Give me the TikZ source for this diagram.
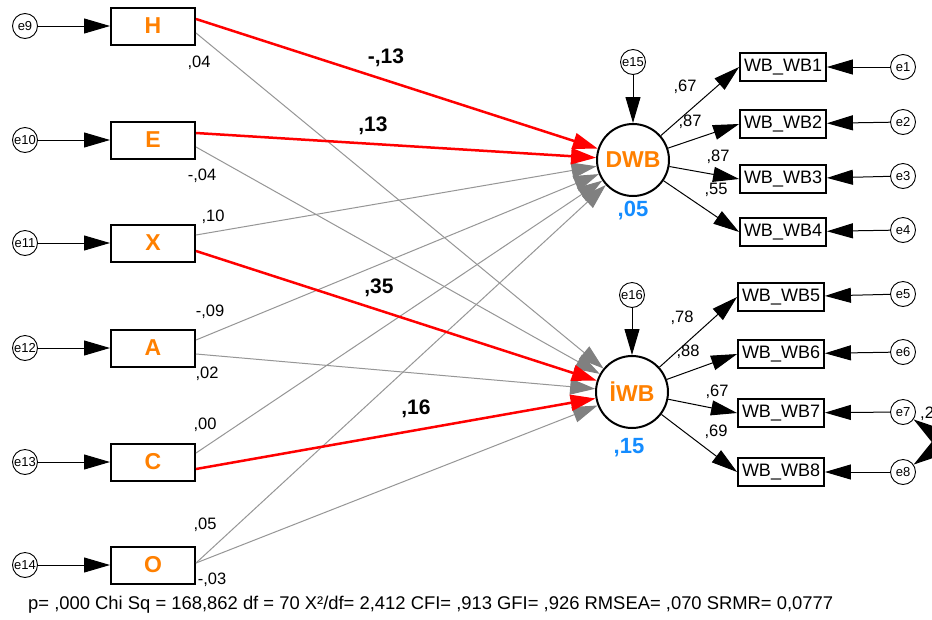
\documentclass[tikz,border=0pt]{standalone}
\usepackage{fontspec}
\setmainfont{Liberation Sans}
\usetikzlibrary{arrows.meta}
\definecolor{amosorange}{RGB}{255,128,0}
\definecolor{amosblue}{RGB}{20,140,255}
\definecolor{pathgray}{RGB}{150,150,150}
\definecolor{headgray}{RGB}{128,128,128}
\definecolor{pathred}{RGB}{255,0,0}

\begin{document}
\begin{tikzpicture}[x=1pt,y=-1pt,
  obs/.style={draw, line width=2pt, minimum width=84pt, minimum height=37pt, inner sep=0pt,
    text=amosorange, font=\fontsize{23}{23}\selectfont\bfseries},
  ind/.style={draw, line width=1.8pt, minimum width=86pt, minimum height=28pt, inner sep=0pt,
    font=\fontsize{18}{18}\selectfont},
  lat/.style={circle, draw, line width=2pt, minimum size=72pt, inner sep=0pt,
    text=amosorange, font=\fontsize{23}{23}\selectfont\bfseries},
  err/.style={circle, draw, line width=0.9pt, minimum size=25pt, inner sep=0pt,
    font=\fontsize{13}{13}\selectfont},
  blk/.style={line width=1pt, -{Triangle[length=26pt,width=15pt]}},
  grp/.style={line width=1pt, draw=pathgray, -{Triangle[length=25pt,width=16pt,color=headgray]}},
  redp/.style={line width=2.5pt, draw=pathred, -{Triangle[length=25pt,width=16pt,color=pathred]}},
  coef/.style={font=\fontsize{16.5}{16.5}\selectfont, inner sep=0pt},
  bcoef/.style={font=\fontsize{21}{21}\selectfont\bfseries, inner sep=0pt},
  rsq/.style={font=\fontsize{22}{22}\selectfont\bfseries, text=amosblue, inner sep=0pt}
]
\useasboundingbox[fill=white] (0,0) rectangle (932,619);

% exogenous observed variables and their errors
\node[obs] (H) at (153,26) {H};
\node[obs] (E) at (153,140) {E};
\node[obs] (X) at (153,243) {X};
\node[obs] (A) at (153,348) {A};
\node[obs] (C) at (153,462) {C};
\node[obs] (O) at (153,565) {O};
\node[err] (e9)  at (25,26)  {e9};
\node[err] (e10) at (25,140) {e10};
\node[err] (e11) at (25,243) {e11};
\node[err] (e12) at (25,348) {e12};
\node[err] (e13) at (25,462) {e13};
\node[err] (e14) at (25,565) {e14};
\foreach \e/\v in {e9/H,e10/E,e11/X,e12/A,e13/C,e14/O}
  \draw[blk] (\e) -- (\v);

% latent variables
\node[lat] (DWB) at (633,160) {DWB};
\node[lat] (IWB) at (632,392) {İWB};
\node[err] (e15) at (633,62)  {e15};
\node[err] (e16) at (632,295) {e16};
\draw[blk] (e15) -- (DWB);
\draw[blk] (e16) -- (IWB);

% indicators
\node[ind] (w1) at (783,67)  {WB\_WB1};
\node[ind] (w2) at (783,124) {WB\_WB2};
\node[ind] (w3) at (783,179) {WB\_WB3};
\node[ind] (w4) at (783,232) {WB\_WB4};
\node[ind] (w5) at (781,297) {WB\_WB5};
\node[ind] (w6) at (781,354) {WB\_WB6};
\node[ind] (w7) at (781,413) {WB\_WB7};
\node[ind] (w8) at (781,472) {WB\_WB8};
\node[err] (e1) at (903,67)  {e1};
\node[err] (e2) at (903,122) {e2};
\node[err] (e3) at (903,176) {e3};
\node[err] (e4) at (903,230) {e4};
\node[err] (e5) at (903,294) {e5};
\node[err] (e6) at (903,352) {e6};
\node[err] (e7) at (903,412) {e7};
\node[err] (e8) at (903,472) {e8};
\foreach \e/\w in {e1/w1,e2/w2,e3/w3,e4/w4,e5/w5,e6/w6,e7/w7,e8/w8}
  \draw[blk] (\e) -- (\w);
\foreach \w in {w1,w2,w3,w4} \draw[blk] (DWB) -- (\w.west);
\foreach \w in {w5,w6,w7,w8} \draw[blk] (IWB) -- (\w.west);

% error covariance (bulges out past the right edge)
\draw[line width=1pt, {Triangle[length=28pt,width=16pt]}-{Triangle[length=28pt,width=16pt]}]
  (e7) to[out=-35, in=35, looseness=2.2] (e8);
\node[coef, anchor=west] (c78) at (920,414) {,29};

% structural paths
\draw[grp] ([yshift=-7pt]H.east) -- (IWB);
\draw[grp] ([yshift=-7pt]E.east) -- (IWB);
\draw[grp] ([yshift=8pt]X.east) -- (DWB);
\draw[grp] ([yshift=8pt]A.east) -- (DWB);
\draw[grp] ([yshift=-6pt]A.east) -- (IWB);
\draw[grp] ([yshift=9pt]C.east) -- (DWB);
\draw[grp] ([yshift=2pt]O.east) -- (DWB);
\draw[grp] ([yshift=2pt]O.east) -- (IWB);
\draw[redp] ([yshift=7pt]H.east) -- (DWB);
\draw[redp] ([yshift=7pt]E.east) -- (DWB);
\draw[redp] ([yshift=-8pt]X.east) -- (IWB);
\draw[redp] ([yshift=-7pt]C.east) -- (IWB);

% path coefficients
\node[coef] (l1) at (199,63)  {,04};
\node[coef] (l2) at (202,176) {-,04};
\node[coef] (l3) at (213,217) {,10};
\node[coef] (l4) at (210,312) {-,09};
\node[coef] (l5) at (207,374) {,02};
\node[coef] (l6) at (205,425) {,00};
\node[coef] (l7) at (205,525) {,05};
\node[coef] (l8) at (212,580) {-,03};
\node[bcoef] (b1) at (386,58)  {-,13};
\node[bcoef] (b2) at (373,126) {,13};
\node[bcoef] (b3) at (379,288) {,35};
\node[bcoef] (b4) at (416,409) {,16};
\node[rsq] (r1) at (633,211) {,05};
\node[rsq] (r2) at (629,448) {,15};

% loadings
\node[coef] (f1) at (685,87)  {,67};
\node[coef] (f2) at (690,122) {,87};
\node[coef] (f3) at (718,157) {,87};
\node[coef] (f4) at (716,190) {,55};
\node[coef] (f5) at (682,318) {,78};
\node[coef] (f6) at (688,352) {,88};
\node[coef] (f7) at (717,392) {,67};
\node[coef] (f8) at (716,432) {,69};

% fit indices
\node[anchor=west, font=\fontsize{18.4}{18.4}\selectfont, inner sep=0pt] (fit) at (28,605)
  {p= ,000 Chi Sq = 168,862 df = 70 X²/df= 2,412 CFI= ,913 GFI= ,926 RMSEA= ,070 SRMR= 0,0777};
\end{tikzpicture}
\end{document}
